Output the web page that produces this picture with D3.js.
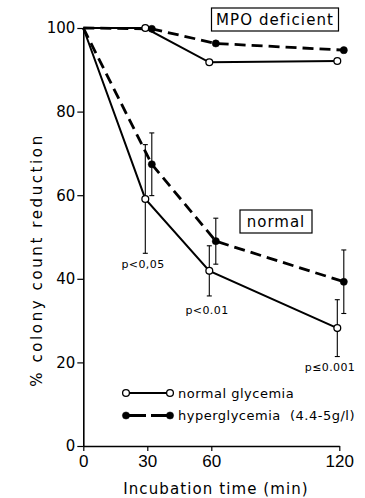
<!DOCTYPE html>
<html><head><meta charset="utf-8">
<script src="https://cdn.jsdelivr.net/npm/d3@7"></script>
<style>
body{margin:0;background:#fff;}
svg{display:block;font-family:"DejaVu Sans",sans-serif;}
</style></head><body>
<svg id="c" width="365" height="498"></svg>
<script>
// ---- data ----
const times = [0, 30, 60, 120];
const mpoNormal = [100, 100, 91.8, 92.1];
const mpoHyper = [100, 99.8, 96.3, 94.7];
const normNormal = [100, 59.1, 41.9, 28.2];
const normNormalErr = [0, 13, 6, 6.8];
const normHyper = [100, 67.4, 49.0, 39.3];
const normHyperErr = [0, 7.5, 5.5, 7.6];
const xTicks = [0, 30, 60, 120];
const yTicks = [0, 20, 40, 60, 80, 100];
const pLabels = ["p<0,05", "p<0.01", "p\u22640.001"];
const legendLabels = ["normal glycemia", "hyperglycemia  (4.4-5g/l)"];

// ---- drawing ----
const svg = d3.select("#c");
const x = d3.scaleLinear().domain([0, 120]).range([83.3, 339.3]);
const y = d3.scaleLinear().domain([0, 100]).range([446, 28]);
const dodgeN = -2, dodgeH = 4.5;
const px = (t, d) => x(t) + (t > 0 ? d : 0);

// axes
const gy = svg.append("g").attr("transform", `translate(${x(0)},0)`)
  .call(d3.axisLeft(y).tickValues(yTicks).tickSize(6).tickSizeOuter(0).tickPadding(2));
gy.select(".domain").attr("stroke-width", 1.6);
gy.selectAll(".tick line").attr("stroke-width", 1.2);
gy.selectAll("text").attr("font-size", 15).attr("font-family", "DejaVu Sans");

const gx = svg.append("g").attr("transform", `translate(0,${y(0)})`)
  .call(d3.axisBottom(x).tickValues(xTicks).tickSize(5).tickSizeOuter(0).tickPadding(4));
gx.select(".domain").attr("stroke-width", 1.6);
gx.selectAll(".tick line").attr("stroke-width", 1.2);
gx.selectAll("text").attr("font-size", 17).attr("font-family", "Liberation Sans");

// axis titles
svg.append("text").attr("x", 216).attr("y", 494).attr("text-anchor", "middle")
  .attr("font-size", 15).attr("letter-spacing", 1.1).text("Incubation time (min)");
svg.append("text").attr("transform", "translate(42,260) rotate(-90)").attr("text-anchor", "middle")
  .attr("font-size", 15).attr("letter-spacing", 2.6).text("% colony count reduction");

const solid = d3.line().x(d => px(d[0], dodgeN)).y(d => y(d[1]));
const dashed = d3.line().x(d => px(d[0], dodgeH)).y(d => y(d[1]));

function series(vals, line, dash, width) {
  svg.append("path").datum(times.map((t, i) => [t, vals[i]]))
    .attr("d", line).attr("fill", "none").attr("stroke", "#000")
    .attr("stroke-width", width).attr("stroke-dasharray", dash);
}
function errs(vals, err, d) {
  const g = svg.append("g").attr("stroke", "#000").attr("stroke-width", 1.1);
  times.forEach((t, i) => {
    if (!err[i]) return;
    const cx = px(t, d), y1 = y(vals[i] + err[i]), y2 = y(vals[i] - err[i]);
    g.append("line").attr("x1", cx).attr("x2", cx).attr("y1", y1).attr("y2", y2);
    g.append("line").attr("x1", cx - 2.5).attr("x2", cx + 2.5).attr("y1", y1).attr("y2", y1);
    g.append("line").attr("x1", cx - 2.5).attr("x2", cx + 2.5).attr("y1", y2).attr("y2", y2);
  });
}
function markers(vals, d, open) {
  svg.append("g").selectAll("circle").data(times.map((t, i) => [t, vals[i]]).filter(p => p[0] > 0))
    .join("circle").attr("cx", p => px(p[0], d)).attr("cy", p => y(p[1])).attr("r", open ? 3.4 : 3.6)
    .attr("fill", open ? "#fff" : "#000").attr("stroke", "#000").attr("stroke-width", open ? 1.3 : 0.5);
}

errs(normNormal, normNormalErr, dodgeN);
errs(normHyper, normHyperErr, dodgeH);
series(mpoNormal, solid, null, 2);
series(mpoHyper, dashed, "11,6", 2.8);
series(normNormal, solid, null, 2);
series(normHyper, dashed, "11,6", 2.8);
markers(mpoNormal, dodgeN, true);
markers(normNormal, dodgeN, true);
markers(mpoHyper, dodgeH, false);
markers(normHyper, dodgeH, false);

// p labels
const pPos = [[143, 268], [207, 314], [330, 371]];
pLabels.forEach((s, i) => {
  svg.append("text").attr("x", pPos[i][0]).attr("y", pPos[i][1]).attr("text-anchor", "middle")
    .attr("font-size", 11).attr("letter-spacing", 0.4).text(s);
});

// boxed labels
function boxLabel(txt, x0, y0, w, h, fs, ls) {
  svg.append("rect").attr("x", x0).attr("y", y0).attr("width", w).attr("height", h)
    .attr("fill", "#fff").attr("stroke", "#000").attr("stroke-width", 1.2);
  svg.append("text").attr("x", x0 + w / 2).attr("y", y0 + h / 2 + 5.5).attr("text-anchor", "middle")
    .attr("font-size", fs).attr("letter-spacing", ls).text(txt);
}
boxLabel("MPO deficient", 211.5, 8, 127, 23, 15, 1.1);
boxLabel("normal", 240, 210, 72, 23, 15, 1);

// legend
const lg = svg.append("g");
[[393, null, true], [415.5, "20,5,40", false]].forEach((r, i) => {
  lg.append("line").attr("x1", 126).attr("x2", 170).attr("y1", r[0]).attr("y2", r[0])
    .attr("stroke", "#000").attr("stroke-width", i ? 2.8 : 2).attr("stroke-dasharray", r[1]);
  [126, 170].forEach(cx => lg.append("circle").attr("cx", cx).attr("cy", r[0]).attr("r", r[2] ? 3.4 : 3.6)
    .attr("fill", r[2] ? "#fff" : "#000").attr("stroke", "#000").attr("stroke-width", r[2] ? 1.3 : 0.5));
  lg.append("text").attr("x", 178).attr("y", r[0] + 4.5).attr("font-size", 13)
    .attr("letter-spacing", 0.5).attr("xml:space", "preserve").style("white-space", "pre").text(legendLabels[i]);
});
</script>
</body></html>
